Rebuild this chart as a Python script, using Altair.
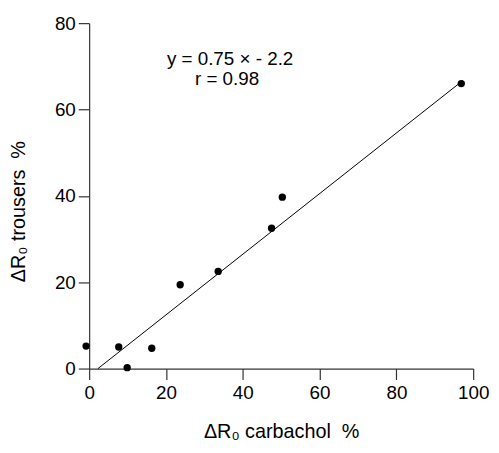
import altair as alt
import pandas as pd

# data
x_vals = [-0.8, 7.7, 9.9, 16.3, 23.7, 33.6, 47.5, 50.3, 96.9]
y_vals = [5.2, 5.0, 0.2, 4.7, 19.4, 22.5, 32.5, 39.7, 66.0]

fit_x = [2.3, 97.3]
fit_y = [0.0, 66.7]

ann_text = ["y = 0.75 \u00d7 - 2.2", "r = 0.98"]
ann_x = [36.7, 35.9]
ann_y = [71.6, 67.0]

x_ticks = [0, 20, 40, 60, 80, 100]
y_ticks = [0, 20, 40, 60, 80]

FONT = "Liberation Sans"

pts = pd.DataFrame({"x": x_vals, "y": y_vals})
fit = pd.DataFrame({"x": fit_x, "y": fit_y})
ann = pd.DataFrame({"x": ann_x, "y": ann_y, "t": ann_text})

xscale = alt.Scale(domain=[0, 100], nice=False, zero=False)
yscale = alt.Scale(domain=[0, 80], nice=False, zero=False)

xaxis = alt.Axis(values=x_ticks, title="\u0394R\u2080 carbachol\u00a0\u00a0%", grid=False,
                 tickSize=11, labelPadding=4, titlePadding=20, labelFlush=False)
yaxis = alt.Axis(values=y_ticks, title="\u0394R\u2080 trousers\u00a0\u00a0%", grid=False,
                 tickSize=11, labelPadding=3, titlePadding=26, titleY=190,
                 labelFlush=False)

points = alt.Chart(pts).mark_circle(size=55, color="black", opacity=1).encode(
    x=alt.X("x:Q", scale=xscale, axis=xaxis),
    y=alt.Y("y:Q", scale=yscale, axis=yaxis),
)

line = alt.Chart(fit).mark_line(color="black", strokeWidth=1).encode(
    x=alt.X("x:Q", scale=xscale),
    y=alt.Y("y:Q", scale=yscale),
)

text = alt.Chart(ann).mark_text(font=FONT, fontSize=19, color="black",
                                align="center", baseline="middle").encode(
    x=alt.X("x:Q", scale=xscale),
    y=alt.Y("y:Q", scale=yscale),
    text="t:N",
)

chart = alt.layer(line, points, text).properties(
    width=388, height=349,
    padding={"left": 82, "top": 13, "right": 18, "bottom": 80},
    autosize=alt.AutoSizeParams(type="none"),
).configure_view(stroke=None).configure_axis(
    domainColor="#333", tickColor="#333", domainWidth=1.2, tickWidth=1.2,
    labelFont=FONT, labelFontSize=19, labelColor="black",
    titleFont=FONT, titleFontSize=20, titleFontWeight="normal", titleColor="black",
)

chart.save("out.html", embed_options={"renderer": "svg", "actions": False})
